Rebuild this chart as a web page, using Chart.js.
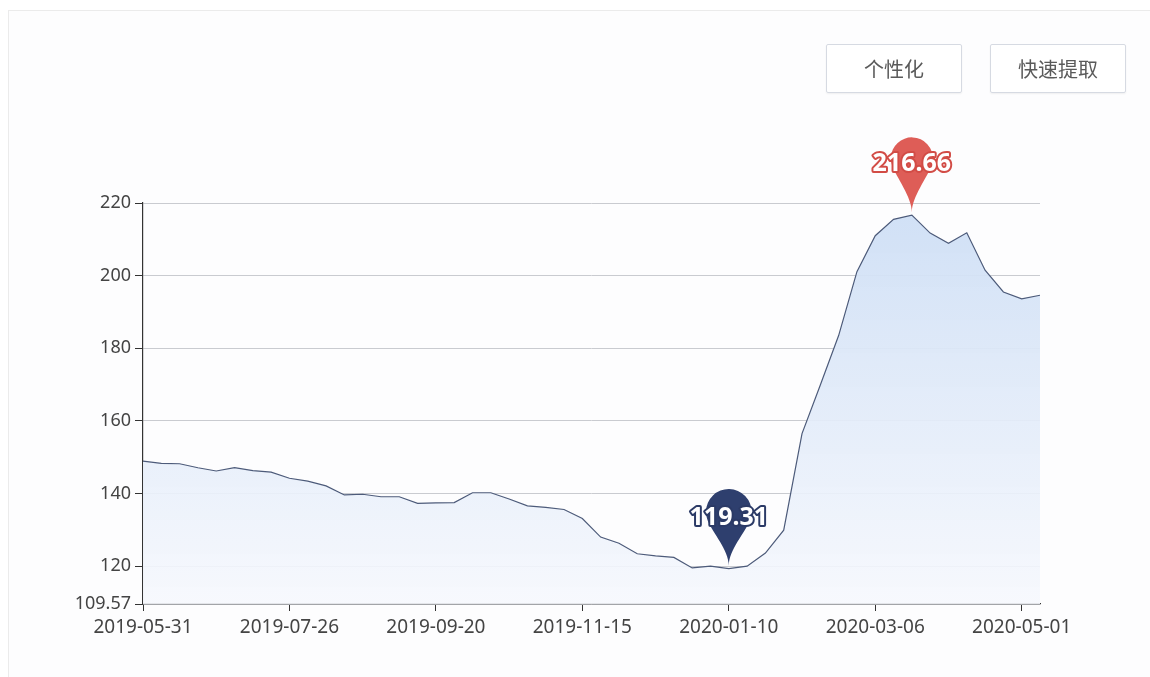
<!DOCTYPE html>
<html>
<head>
<meta charset="utf-8">
<script src="https://cdn.jsdelivr.net/npm/chart.js@4.4.1/dist/chart.umd.min.js"></script>
<style>
  html, body { margin:0; padding:0; background:#ffffff; }
  #wrap { position:relative; width:1150px; height:677px; overflow:hidden; }
  #card { position:absolute; left:8px; top:10px; width:1160px; height:700px; border:1px solid #ebebeb; background:#fdfdfe; box-sizing:border-box; }
  canvas { position:absolute; left:0; top:0; }
  .btn { position:absolute; top:44px; width:136px; height:49px; box-sizing:border-box; border:1px solid #d6dae2; border-radius:2px; background:#ffffff;
         font-family:"Noto Sans CJK SC", sans-serif; font-size:20px; color:#5a5a5a; display:flex; align-items:center; justify-content:center;
         box-shadow:0 1px 2px rgba(0,0,0,0.06); }
</style>
</head>
<body>
<div id="wrap">
  <div id="card"></div>
  <canvas id="c" width="1150" height="677"></canvas>
  <div class="btn" style="left:826px;">个性化</div>
  <div class="btn" style="left:990px;">快速提取</div>
</div>
<script>
const dates = [
  '2019-05-31','2019-06-07','2019-06-14','2019-06-21','2019-06-28','2019-07-05','2019-07-12','2019-07-19',
  '2019-07-26','2019-08-02','2019-08-09','2019-08-16','2019-08-23','2019-08-30','2019-09-06','2019-09-13',
  '2019-09-20','2019-09-27','2019-10-04','2019-10-11','2019-10-18','2019-10-25','2019-11-01','2019-11-08',
  '2019-11-15','2019-11-22','2019-11-29','2019-12-06','2019-12-13','2019-12-20','2019-12-27','2020-01-03',
  '2020-01-10','2020-01-17','2020-01-24','2020-01-31','2020-02-07','2020-02-14','2020-02-21','2020-02-28',
  '2020-03-06','2020-03-13','2020-03-20','2020-03-27','2020-04-03','2020-04-10','2020-04-17','2020-04-24',
  '2020-05-01','2020-05-08'
];
const values = [
  148.9,148.3,148.2,147.1,146.2,147.1,146.3,145.9,
  144.2,143.4,142.1,139.6,139.8,139.1,139.1,137.3,
  137.4,137.5,140.2,140.2,138.5,136.6,136.2,135.6,
  133.1,128.0,126.3,123.4,122.8,122.4,119.5,120.0,
  119.31,120.0,123.6,129.9,156.5,169.9,183.5,201.1,
  211.0,215.5,216.66,211.7,208.9,211.8,201.5,195.5,
  193.6,194.6
];
const xTickLabels = ['2019-05-31','2019-07-26','2019-09-20','2019-11-15','2020-01-10','2020-03-06','2020-05-01'];
const yTickValues = [109.57,120,140,160,180,200,220];
const yMin = 109.57, yMax = 220;

const fontFamily = '"Noto Sans", "DejaVu Sans", sans-serif';

function pinPath(ctx, x, y, width, height) {
  const w = width / 5 * 3;
  const h = Math.max(w, height);
  const r = w / 2;
  const dy = r * r / (h - r);
  const cy = y - h + r + dy;
  const angle = Math.asin(dy / r);
  const dx = Math.cos(angle) * r;
  const tanX = Math.sin(angle);
  const tanY = Math.cos(angle);
  const cpLen = r * 0.6;
  const cpLen2 = r * 0.7;
  ctx.beginPath();
  ctx.moveTo(x - dx, cy + dy);
  ctx.arc(x, cy, r, Math.PI - angle, Math.PI * 2 + angle);
  ctx.bezierCurveTo(x + dx - tanX * cpLen, cy + dy + tanY * cpLen, x, y - cpLen2, x, y);
  ctx.bezierCurveTo(x, y - cpLen2, x - dx + tanX * cpLen, cy + dy + tanY * cpLen, x - dx, cy + dy);
  ctx.closePath();
  return cy;
}

const markPlugin = {
  id: 'markPins',
  afterDatasetsDraw(chart) {
    const ctx = chart.ctx;
    const meta = chart.getDatasetMeta(0);
    let maxI = 0, minI = 0;
    values.forEach((v, i) => { if (v > values[maxI]) maxI = i; if (v < values[minI]) minI = i; });
    const marks = [
      { i: maxI, color: '#de5d57', stroke: '#d24c46', w: 70, h: 82 },
      { i: minI, color: '#2e3f6e', stroke: '#2b3a66', w: 76, h: 85 }
    ];
    marks.forEach(m => {
      const pt = meta.data[m.i];
      const x = pt.x, tip = pt.y - 3;
      ctx.save();
      const cy = pinPath(ctx, x, tip, m.w, m.h);
      ctx.fillStyle = m.color;
      ctx.fill();
      ctx.font = 'bold 25px ' + fontFamily;
      ctx.textAlign = 'center';
      ctx.textBaseline = 'middle';
      ctx.lineJoin = 'round';
      ctx.lineWidth = 4;
      ctx.strokeStyle = m.stroke;
      const txt = values[m.i].toFixed(2);
      ctx.strokeText(txt, x, cy + 6);
      ctx.fillStyle = '#ffffff';
      ctx.fillText(txt, x, cy + 6);
      ctx.restore();
    });
  }
};

const ctx = document.getElementById('c').getContext('2d');
new Chart(ctx, {
  type: 'line',
  data: {
    labels: dates,
    datasets: [{
      data: values,
      borderColor: '#4d5b7a',
      borderWidth: 1.2,
      pointRadius: 0,
      tension: 0,
      fill: 'start',
      backgroundColor: (c) => {
        const area = c.chart.chartArea;
        if (!area) return 'rgba(220,230,248,0.6)';
        const g = c.chart.ctx.createLinearGradient(0, area.top, 0, area.bottom);
        g.addColorStop(0, 'rgba(205,222,245,0.95)');
        g.addColorStop(1, 'rgba(246,248,253,0.9)');
        return g;
      }
    }]
  },
  options: {
    responsive: false,
    animation: false,
    layout: { padding: { left: 0, right: 110, top: 203, bottom: 0 } },
    plugins: { legend: { display: false }, tooltip: { enabled: false } },
    scales: {
      x: {
        type: 'category',
        offset: false,
        afterBuildTicks: (s) => { s.ticks = s.ticks.filter(t => xTickLabels.includes(dates[t.value])); },
        afterFit: (s) => { s.height = 73; },
        ticks: { autoSkip: false, maxRotation: 0, padding: 5, color: '#444', font: { family: fontFamily, size: 19 } },
        grid: { drawOnChartArea: false, drawTicks: true, tickLength: 7, tickColor: '#333', color: '#333' },
        border: { color: '#333', width: 1.2 }
      },
      y: {
        min: yMin, max: yMax,
        afterBuildTicks: (s) => { s.ticks = yTickValues.map(v => ({ value: v })); },
        afterFit: (s) => { s.width = 143; },
        ticks: { padding: 4, color: '#444', font: { family: fontFamily, size: 18 },
                 callback: (v) => String(v) },
        grid: { color: '#c9cbd0', lineWidth: 1, tickLength: 8, tickColor: '#333' },
        border: { color: '#333', width: 1.2 }
      }
    }
  },
  plugins: [markPlugin]
});
</script>
</body>
</html>
